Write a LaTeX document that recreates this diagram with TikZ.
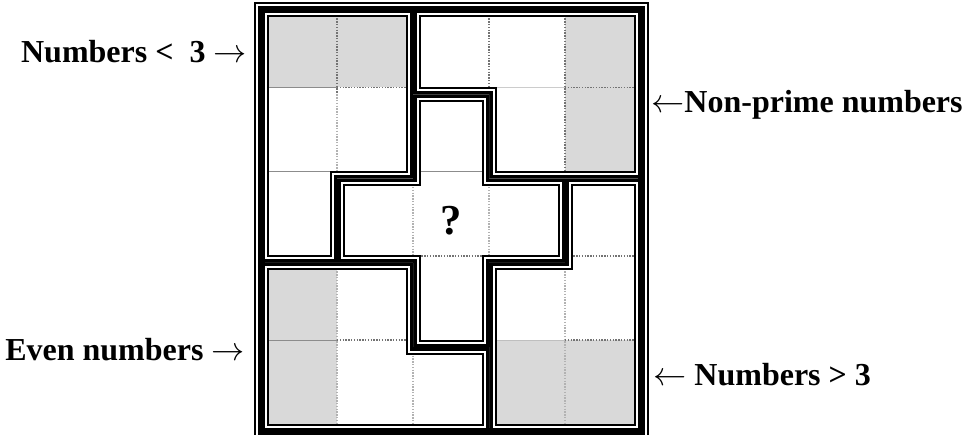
\documentclass[tikz,border=0pt]{standalone}
\usepackage{fontspec}
\setmainfont{Liberation Serif}
\usetikzlibrary{calc}

% one zone of the puzzle: band drawn inside its outline only
\newcommand{\zoneframe}[1]{%
  \begin{scope}
    \clip #1;
    \draw[bandout] #1;
    \draw[bandgap] #1;
    \draw[bandin] #1;
  \end{scope}}
\newcommand{\lift}{0.083}

\begin{document}
\begin{tikzpicture}[
    x=0.75pt, y=-0.75pt,
    font=\bfseries\fontsize{24}{28}\selectfont,
    hint/.style={inner sep=0pt},
    greycell/.style={fill=black!15},
    dotline/.style={densely dotted, line width=1.1pt, draw=black!55},
    softline/.style={densely dotted, line width=1.1pt, draw=black!30},
    flatline/.style={line width=0.8pt, draw=black!45},
    bandout/.style={line width=11.25pt, draw=black},
    bandgap/.style={line width=8.25pt, draw=white},
    bandin/.style={line width=5.25pt, draw=black}
]
\useasboundingbox (0,0) rectangle (967,435);

% Grid (5 x 5 cells)
\begin{scope}[shift={(261,10)}, x=57pt, y=-63.225pt]

% Shaded cells
\fill[greycell] (0,0) rectangle (2,{1-\lift});
\fill[greycell] (4,0) rectangle (5,2);
\fill[greycell] (0,3) rectangle (1,5);
\fill[greycell] (3,{4-\lift}) rectangle (5,5);

% Cell lines, zone top left
\draw[dotline] (1,0) -- (1,1);
\draw[softline] (1,1) -- (1,2);
\draw[flatline] (0,{1-\lift}) -- (1,{1-\lift});
\draw[dotline] (1,{1-\lift}) -- (2,{1-\lift});
\draw[flatline] (0,{2-\lift}) -- (1,{2-\lift});

% Cell lines, zone top right
\draw[dotline] (3,0) -- (3,1);
\draw[dotline] (4,0) -- (4,2);
\draw[flatline, draw=black!20] (3,{1-\lift}) -- (4,{1-\lift});
\draw[dotline] (4,{1-\lift}) -- (5,{1-\lift});

% Cell lines, cross
\draw[softline] (2,2) -- (2,3);
\draw[softline] (3,2) -- (3,3);
\draw[flatline] (2,{2-\lift}) -- (3,{2-\lift});
\draw[dotline] (2,{3-\lift}) -- (3,{3-\lift});

% Cell lines, zone bottom right
\draw[dotline] (4,{3-\lift}) -- (5,{3-\lift});
\draw[softline] (4,3) -- (4,5);
\draw[flatline, draw=black!25] (3,{4-\lift}) -- (4,{4-\lift});
\draw[dotline] (4,{4-\lift}) -- (5,{4-\lift});

% Cell lines, zone bottom left
\draw[softline] (1,3) -- (1,5);
\draw[flatline] (0,{4-\lift}) -- (1,{4-\lift});
\draw[dotline] (1,{4-\lift}) -- (2,{4-\lift});
\draw[softline] (2,4) -- (2,5);

% Zones
\zoneframe{(0,0) -- (2,0) -- (2,2) -- (1,2) -- (1,3) -- (0,3) -- cycle}
\zoneframe{(2,0) -- (5,0) -- (5,2) -- (3,2) -- (3,1) -- (2,1) -- cycle}
\zoneframe{(2,1) -- (3,1) -- (3,2) -- (4,2) -- (4,3) -- (3,3) -- (3,4) -- (2,4) -- (2,3) -- (1,3) -- (1,2) -- (2,2) -- cycle}
\zoneframe{(4,2) -- (5,2) -- (5,5) -- (3,5) -- (3,3) -- (4,3) -- cycle}
\zoneframe{(0,3) -- (2,3) -- (2,4) -- (3,4) -- (3,5) -- (0,5) -- cycle}

% Outer frame
\draw[line width=5.25pt] (0,0) rectangle (5,5);
\draw[line width=1.5pt] ($(0,0)+(-4.875pt,4.875pt)$) rectangle ($(5,5)+(4.875pt,-4.875pt)$);

% Unknown cell
\node[hint, font=\bfseries\fontsize{32}{36}\selectfont] (mystery) at (2.5,2.5) {?};
\end{scope}

% Labels
\node[hint, anchor=base east] (lessthree) at (247,63) {Numbers <~~3 $\rightarrow$};
\node[hint, anchor=base west] (nonprime) at (651,113) {$\leftarrow$Non-prime numbers};
\node[hint, anchor=base east] (evennum) at (245,360) {Even numbers $\rightarrow$};
\node[hint, anchor=base west] (morethree) at (653,385) {$\leftarrow$ Numbers > 3};

\end{tikzpicture}
\end{document}
